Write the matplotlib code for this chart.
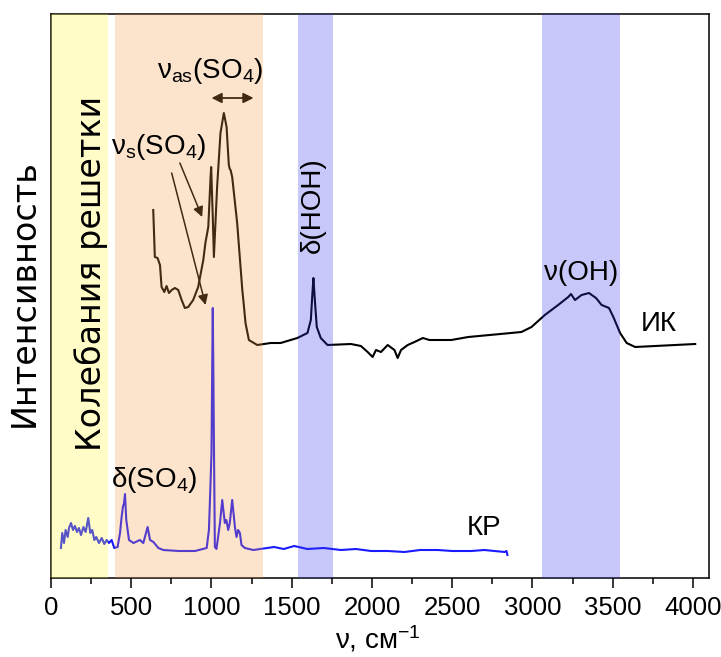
import matplotlib
matplotlib.use("Agg")
import matplotlib.pyplot as plt

plt.rcParams['font.family'] = ['Liberation Sans', 'DejaVu Sans']
plt.rcParams['mathtext.fontset'] = 'custom'
plt.rcParams['mathtext.rm'] = 'Liberation Sans'
plt.rcParams['mathtext.it'] = 'Liberation Sans'
plt.rcParams['mathtext.default'] = 'regular'

# IR spectrum (arbitrary intensity units)
ir_x = [637, 642, 647, 664, 679, 689, 706, 720, 735, 752, 772, 793, 814, 834, 855,
        886, 917, 949, 962, 980, 994, 998, 1008, 1015, 1035, 1056, 1077, 1094, 1108,
        1114, 1119, 1129, 1160, 1192, 1202, 1212, 1233, 1285, 1369, 1431, 1535, 1598,
        1619, 1629, 1635, 1644, 1656, 1681, 1723, 1869, 1931, 1973, 2004, 2025,
        2056, 2098, 2140, 2160, 2181, 2223, 2265, 2317, 2358, 2494, 2600, 2800,
        2931, 2994, 3077, 3160, 3223, 3240, 3265, 3306, 3352, 3396, 3431, 3477,
        3504, 3546, 3587, 3640, 3765, 4014]
ir_y = [368, 345, 321, 320, 313, 291, 286, 292, 285, 288, 290, 288, 278, 270, 271,
        278, 291, 318, 335, 351, 400, 411, 361, 321, 391, 445, 465, 451, 413,
        409, 408, 401, 355, 288, 272, 255, 238, 233, 235, 235, 240, 245,
        258, 285, 300, 278, 251, 240, 233, 234, 232, 226, 221, 228,
        226, 233, 228, 220, 228, 233, 236, 240, 238, 238, 241, 244,
        246, 251, 263, 273, 281, 284, 278, 283, 285, 280, 273, 270,
        261, 245, 235, 231, 232, 234]

# Raman spectrum
kr_x = [62, 70, 81, 91, 104, 112, 125, 137, 149, 162, 174, 187, 202, 216, 232,
        245, 257, 270, 282, 299, 316, 332, 347, 361, 378, 394, 415, 430, 440, 448,
        455, 461, 469, 486, 514, 554, 575, 602, 617, 638, 669, 700, 796, 897, 970,
        984, 992, 1000, 1004, 1008, 1012, 1016, 1021, 1031, 1053, 1067, 1083, 1093,
        1104, 1114, 1129, 1146, 1156, 1166, 1177, 1187, 1208, 1260, 1390, 1450,
        1515, 1598, 1700, 1806, 1900, 1994, 2100, 2202, 2300, 2410, 2500, 2619,
        2700, 2827, 2838, 2844]
kr_y = [30, 45, 35, 48, 41, 50, 55, 48, 52, 46, 50, 43, 51, 46, 60,
        45, 48, 38, 41, 35, 40, 34, 38, 35, 38, 30, 31, 45, 61, 71,
        75, 84, 58, 38, 35, 38, 35, 51, 38, 36, 30, 28, 27, 27, 30,
        48, 85, 125, 200, 270, 200, 120, 31, 29, 55, 78, 55, 58,
        48, 55, 78, 51, 41, 48, 45, 33, 30, 28, 31, 29,
        32, 29, 30, 28, 29, 27, 27, 26, 28, 28, 27, 27,
        28, 26, 27, 23]

# Highlighted spectral regions (cm^-1)
band_lattice = (0, 355)
band_so4 = (398, 1318)
band_hoh = (1540, 1755)
band_oh = (3060, 3545)

xticks = [0, 500, 1000, 1500, 2000, 2500, 3000, 3500, 4000]
xminor = [250, 750, 1250, 1750, 2250, 2750, 3250, 3750]

fig = plt.figure(figsize=(7.21, 6.57), dpi=100)
ax = fig.add_axes([51/721, 1 - 578/657, (709 - 51)/721, (578 - 14)/657])

ax.plot(ir_x, ir_y, color='black', lw=1.5, zorder=2)
ax.plot(kr_x, kr_y, color='#1a1aff', lw=1.5, zorder=2)

a = 0.27
ax.axvspan(*band_lattice, color=(1.0, 0.957, 0.2), alpha=a, lw=0, zorder=3)
ax.axvspan(*band_so4, color=(0.957, 0.608, 0.275), alpha=a, lw=0, zorder=3)
ax.axvspan(*band_hoh, color=(0.2, 0.2, 0.925), alpha=a, lw=0, zorder=3)
ax.axvspan(*band_oh, color=(0.2, 0.2, 0.925), alpha=a, lw=0, zorder=3)

# arrows
ap = dict(arrowstyle='-|>', color='black', lw=1.1, mutation_scale=15, shrinkA=0, shrinkB=0)
ax.annotate('', xy=(942, 361), xytext=(803, 415), arrowprops=ap, zorder=2)
ax.annotate('', xy=(963, 273), xytext=(752, 405), arrowprops=ap, zorder=2)
ax.annotate('', xy=(1262, 480), xytext=(1000, 480),
            arrowprops=dict(arrowstyle='<|-|>', color='black', lw=1.3, mutation_scale=15,
                            shrinkA=0, shrinkB=0), zorder=2)

fs = 20
ax.text(990, 500, 'ν$_{as}$(SO$_4$)', fontsize=fs, ha='center', va='baseline', zorder=5)
ax.text(674, 424, 'ν$_{s}$(SO$_4$)', fontsize=fs, ha='center', va='baseline', zorder=5)
ax.text(642, 91, 'δ(SO$_4$)', fontsize=fs, ha='center', va='baseline', zorder=5)
ax.text(1633, 373, 'δ(HOH)', fontsize=fs, ha='center', va='center', rotation=90, zorder=5)
ax.text(3304, 298, 'ν(OH)', fontsize=fs, ha='center', va='baseline', zorder=5)
ax.text(3786, 247, 'ИК', fontsize=fs, ha='center', va='baseline', zorder=5)
ax.text(2696, 43, 'КР', fontsize=fs, ha='center', va='baseline', zorder=5)
ax.text(250, 305, 'Колебания решетки', fontsize=24, ha='center', va='center',
        rotation=90, family=['DejaVu Sans'], zorder=5)

fig.text(24/721, 1 - 293/657, 'Интенсивность', fontsize=24, ha='center', va='center',
         rotation=90, family=['DejaVu Sans'])
fig.text(378/721, 8/657, 'ν, см$^{-1}$', fontsize=20, ha='center', va='baseline')

ax.set_xlim(0, 4100)
ax.set_ylim(0, 564)
ax.set_xticks(xticks)
ax.set_xticks(xminor, minor=True)
ax.set_yticks([])
ax.tick_params(axis='x', which='major', direction='out', length=7.2, width=1.1, pad=6,
               labelsize=18.5)
ax.tick_params(axis='x', which='minor', direction='out', length=4.3, width=1.1)
for lab in ax.get_xticklabels():
    lab.set_family(['Liberation Sans Narrow', 'Liberation Sans'])
for s in ax.spines.values():
    s.set_linewidth(1.1)

fig.savefig('out.png', dpi=100)
